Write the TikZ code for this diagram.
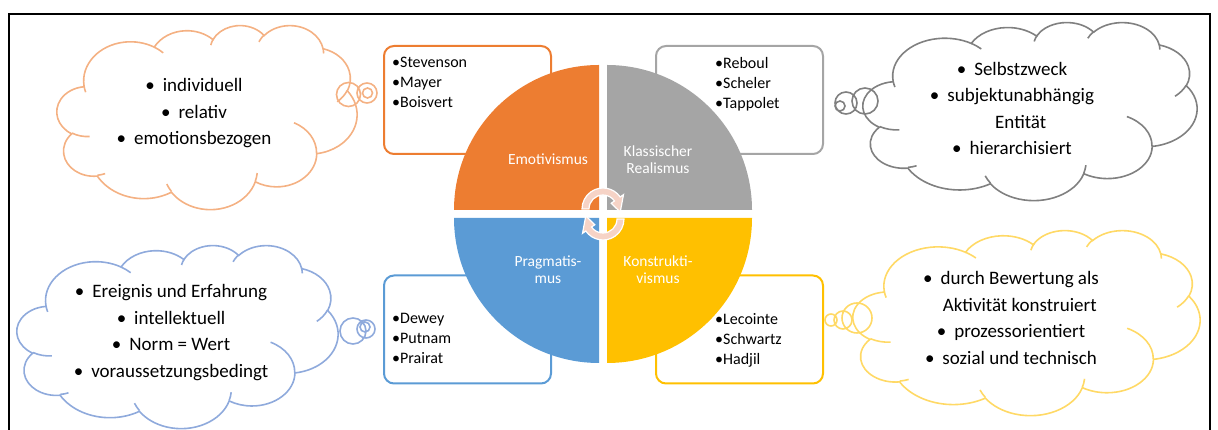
\documentclass[tikz,border=0pt]{standalone}
\usepackage{fontspec}
\setmainfont{Carlito}

\definecolor{emoOrange}{HTML}{ED7D31}
\definecolor{realGray}{HTML}{A5A5A5}
\definecolor{pragBlue}{HTML}{5B9BD5}
\definecolor{konstYellow}{HTML}{FFC000}
\definecolor{emoCloud}{HTML}{F4B183}
\definecolor{realCloud}{HTML}{808080}
\definecolor{pragCloud}{HTML}{8FAADC}
\definecolor{konstCloud}{HTML}{FFD966}
\definecolor{turnPink}{HTML}{F6D3C6}

% cloud outline in a 432 x 432 box, y pointing down
\newcommand\cloudrim{}
\newcommand\cloudfolds{}
\newcommand\rimarc[4]{% x radius, y radius, start angle, sweep
  \pgfmathsetmacro\arcst{atan2(#1*sin(#3),#2*cos(#3))}%
  \pgfmathsetmacro\arcen{atan2(#1*sin(#3+#4),#2*cos(#3+#4))}%
  \pgfmathsetmacro\arcdl{\arcen-(\arcst)}%
  \pgfmathsetmacro\arcdl{(#4>0 && \arcdl<0) ? \arcdl+360 : ((#4<0 && \arcdl>0) ? \arcdl-360 : \arcdl)}%
  \edef\arcnext{arc[start angle=\arcst, delta angle=\arcdl, x radius=#1, y radius=#2]}}
\newcommand\addrim[4]{\rimarc{#1}{#2}{#3}{#4}\xdef\cloudrim{\cloudrim\arcnext}}
\newcommand\addfold[6]{\rimarc{#3}{#4}{#5}{#6}\xdef\cloudfolds{\cloudfolds (#1,#2) \arcnext}}

\addrim{67.53}{91.90}{-190.4875}{123.7805}
\addrim{53.33}{72.67}{-144.1024}{89.9452}
\addrim{43.65}{59.45}{-145.8079}{99.7230}
\addrim{48.57}{65.95}{-130.9861}{117.2417}
\addrim{53.33}{72.73}{-78.7089}{109.0269}
\addrim{67.75}{92.20}{-46.2673}{130.2690}
\addrim{57.85}{78.67}{0.6250}{114.0333}
\addrim{67.52}{92.15}{22.4516}{115.1726}
\addrim{77.20}{105.43}{66.2426}{75.7110}
\addrim{43.60}{59.18}{-274.9421}{146.7356}
\addrim{43.45}{59.45}{-246.8285}{152.5189}

\addfold{46.93}{261.77}{43.45}{59.45}{86.7420}{26.4295}
\addfold{69.28}{348.99}{43.60}{59.18}{73.6105}{11.4475}
\addfold{164.78}{390.90}{67.52}{92.15}{137.6242}{14.0811}
\addfold{288.27}{347.51}{67.52}{92.15}{6.4533}{15.9984}
\addfold{341.29}{229.54}{57.85}{78.67}{-70.2924}{70.9174}
\addfold{417.98}{153.54}{53.33}{72.73}{30.3180}{27.7515}
\addfold{383.24}{54.26}{48.57}{65.95}{-13.7443}{14.8589}
\addfold{290.78}{39.52}{48.57}{65.95}{-149.1815}{18.1954}
\addfold{221.41}{47.20}{43.65}{59.45}{-163.4943}{19.5048}
\addfold{140.00}{51.92}{67.53}{91.90}{-66.7070}{12.3194}
\addfold{41.27}{157.89}{67.53}{91.90}{157.6544}{11.8582}

% colour, left, top, width, height
\newcommand\thoughtcloud[5]{%
  \pgfmathsetmacro\cloudxu{#4/432}%
  \pgfmathsetmacro\cloudyu{#5/432}%
  \begin{scope}[shift={(#2,#3)}, x=\cloudxu pt, y=-\cloudyu pt, cloudline, draw=#1]
    \draw (39,143.7) \cloudrim -- cycle;
    \draw \cloudfolds;
  \end{scope}}

\newcommand\cbul{\textbullet\hspace{8pt}}

\begin{document}
\begin{tikzpicture}[x=1pt, y=1pt,
listbox/.style = {rectangle, rounded corners=10pt, line width=2pt, fill=white,
  minimum width=167pt, minimum height=108pt},
names/.style = {anchor=north west, inner sep=0pt, align=left,
  font=\fontsize{16}{20}\selectfont},
qlabel/.style = {text=white, align=center, font=\fontsize{15.5}{17.5}\selectfont},
cloudtext/.style = {align=center, inner sep=0pt, font=\fontsize{19}{26.5}\selectfont},
cloudline/.style = {line width=1.6pt},
cyclearrow/.style = {fill=turnPink, draw=white, line width=1.2pt}]
\useasboundingbox (0,0) rectangle (1218,430);
\draw[line width=2pt] (8.5,0) -- (8.5,416) -- (1210,416) -- (1210,0);

% name boxes behind the circle
\node[listbox, draw=emoOrange] at (467.5,330) (emobox) {};
\node[listbox, draw=realGray] at (739.5,330) (realbox) {};
\node[listbox, draw=pragBlue] at (467.5,100.5) (pragbox) {};
\node[listbox, draw=konstYellow] at (739.5,100.5) (konstbox) {};
\node[names] at ([shift={(9,-12)}]emobox.north west) (emonames) {•Stevenson\\•Mayer\\•Boisvert};
\node[names] at ([shift={(60,-12)}]realbox.north west) (realnames) {•Reboul\\•Scheler\\•Tappolet};
\node[names] at ([shift={(9,-39)}]pragbox.north west) (pragnames) {•Dewey\\•Putnam\\•Prairat};
\node[names] at ([shift={(60,-39)}]konstbox.north west) (konstnames) {•Lecointe\\•Schwartz\\•Hadjil};

% four quarters
\fill[emoOrange] (599,220) -- (454,220) arc[start angle=180, end angle=90, radius=145] -- cycle;
\fill[realGray] (607,220) -- (607,365) arc[start angle=90, end angle=0, radius=145] -- cycle;
\fill[pragBlue] (599,212) -- (599,67) arc[start angle=270, end angle=180, radius=145] -- cycle;
\fill[konstYellow] (607,212) -- (752,212) arc[start angle=0, end angle=-90, radius=145] -- cycle;
\node[qlabel] at (548,271) (emo) {Emotivismus};
\node[qlabel] at (658,270.5) (real) {Klassischer\\Realismus};
\node[qlabel] at (548,160.5) (prag) {Pragmatis-\\mus};
\node[qlabel] at (658,160.5) (konst) {Konstrukti-\\vismus};

% turning arrows in the middle
\coordinate (upturn) at (603,221);
\coordinate (downturn) at (603,211);
\filldraw[cyclearrow] ([shift={(180:14)}]upturn) arc[start angle=180, end angle=35, radius=14]
  -- ([shift={(35:10)}]upturn) -- ([shift={(-10:17.5)}]upturn) -- ([shift={(35:25)}]upturn)
  -- ([shift={(35:21)}]upturn) arc[start angle=35, end angle=180, radius=21] -- cycle;
\filldraw[cyclearrow] ([shift={(0:14)}]downturn) arc[start angle=0, end angle=-145, radius=14]
  -- ([shift={(-145:10)}]downturn) -- ([shift={(170:17.5)}]downturn) -- ([shift={(-145:25)}]downturn)
  -- ([shift={(-145:21)}]downturn) arc[start angle=-145, end angle=0, radius=21] -- cycle;

% clouds with their bubbles
\thoughtcloud{emoCloud}{57}{405}{300}{184}
\draw[cloudline, emoCloud] (348.5,335.5) circle[radius=12] (367,337) circle[radius=10] (367.5,337) circle[radius=5];
\node[cloudtext] at (194,316.5) (emotext) {\cbul individuell\\ \cbul relativ\\ \cbul emotionsbezogen};

\thoughtcloud{realCloud}{863}{408}{334}{178}
\draw[cloudline, realCloud] (865,329) circle[radius=13] (846,327) circle[radius=11] (840,324) circle[radius=5];
\node[cloudtext] at (1012,321.5) (realtext) {\cbul Selbstzweck\\ \cbul subjektunabhängig\\ \phantom{\cbul}Entität\\ \cbul hierarchisiert};

\thoughtcloud{pragCloud}{17}{185}{321}{183}
\draw[cloudline, pragCloud] (353,99) circle[radius=13] (366,101) circle[radius=9] (365,103) circle[radius=5];
\node[cloudtext] at (171,97.5) (pragtext) {\cbul Ereignis und Erfahrung\\ \cbul intellektuell\\ \cbul Norm = Wert\\ \cbul voraussetzungsbedingt};

\thoughtcloud{konstCloud}{853}{200}{347}{185}
\draw[cloudline, konstCloud] (857,112) circle[radius=15] (843,110) circle[radius=9] (831,110) circle[radius=6];
\node[cloudtext] at (1011,112) (konsttext) {\cbul durch Bewertung als\\ \phantom{\cbul}Aktivität konstruiert\\ \cbul prozessorientiert\\ \cbul sozial und technisch};
\end{tikzpicture}
\end{document}
